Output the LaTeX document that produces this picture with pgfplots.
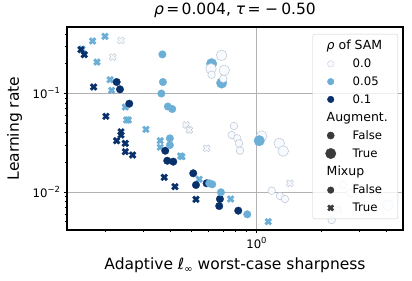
\documentclass[border=0pt]{standalone}
\usepackage{fontspec}
\setmainfont{DejaVu Sans}
\usepackage{pgfplots}
\pgfplotsset{compat=1.18}
\definecolor{c0}{HTML}{F7FBFF}
\definecolor{c0e}{HTML}{BCC5D0}
\definecolor{c1}{HTML}{6BAED6}
\definecolor{c2}{HTML}{08306B}
\definecolor{lg}{HTML}{3A3A3A}
\pgfdeclareplotmark{X}{%
  \pgftransformrotate{45}%
  \pgfpathmoveto{\pgfqpoint{-0.333\pgfplotmarksize}{-\pgfplotmarksize}}%
  \pgfpathlineto{\pgfqpoint{-0.333\pgfplotmarksize}{-0.333\pgfplotmarksize}}%
  \pgfpathlineto{\pgfqpoint{-\pgfplotmarksize}{-0.333\pgfplotmarksize}}%
  \pgfpathlineto{\pgfqpoint{-\pgfplotmarksize}{0.333\pgfplotmarksize}}%
  \pgfpathlineto{\pgfqpoint{-0.333\pgfplotmarksize}{0.333\pgfplotmarksize}}%
  \pgfpathlineto{\pgfqpoint{-0.333\pgfplotmarksize}{\pgfplotmarksize}}%
  \pgfpathlineto{\pgfqpoint{0.333\pgfplotmarksize}{\pgfplotmarksize}}%
  \pgfpathlineto{\pgfqpoint{0.333\pgfplotmarksize}{0.333\pgfplotmarksize}}%
  \pgfpathlineto{\pgfqpoint{\pgfplotmarksize}{0.333\pgfplotmarksize}}%
  \pgfpathlineto{\pgfqpoint{\pgfplotmarksize}{-0.333\pgfplotmarksize}}%
  \pgfpathlineto{\pgfqpoint{0.333\pgfplotmarksize}{-0.333\pgfplotmarksize}}%
  \pgfpathlineto{\pgfqpoint{0.333\pgfplotmarksize}{-\pgfplotmarksize}}%
  \pgfpathclose
  \pgfusepathqfillstroke}
\newcommand{\tsup}[1]{\raisebox{0.42em}{\fontsize{8.4bp}{9bp}\selectfont #1}}
\newcommand{\hdr}[1]{\hspace*{-26bp}{\fontsize{12.5bp}{14bp}\selectfont #1}\hspace*{6bp}}
\begin{document}
\begin{tikzpicture}
\path[use as bounding box] (-67bp,-51bp) rectangle (345bp,230bp);
\begin{axis}[
  at={(0,0)}, anchor=south west,
  scale only axis, width=336bp, height=203bp,
  xmode=log, ymode=log,
  xmin=0.1327, xmax=4.77, ymin=0.00412, ymax=0.47,
  xtick={1}, xticklabels={10\tsup{0}},
  ytick={0.01,0.1}, yticklabels={10\tsup{−2},10\tsup{−1}},
  minor xtick={0.2,0.3,0.4,0.5,0.6,0.7,0.8,0.9,2,3,4},
  minor ytick={0.005,0.006,0.007,0.008,0.009,0.02,0.03,0.04,0.05,0.06,0.07,0.08,0.09,0.2,0.3,0.4},
  tick align=outside, tick pos=left,
  major tick length=3.5bp, minor tick length=2bp,
  major tick style={black, line width=0.8bp},
  minor tick style={black, line width=0.6bp},
  grid=major, major grid style={color=black!30, line width=0.8bp},
  axis line style={line width=1.1bp},
  tick label style={font=\fontsize{11.7bp}{14bp}\selectfont},
  title={{\itshape ρ}\hspace{0.15em}=\hspace{0.15em}0.004, {\itshape τ}\hspace{0.15em}=\hspace{0.3em}−\hspace{0.2em}0.50},
  title style={font=\fontsize{15.5bp}{19bp}\selectfont, at={(axis description cs:0.5,1)}, anchor=base, yshift=7bp},
  xlabel={Adaptive {\itshape ℓ}\raisebox{-0.25em}{\fontsize{10bp}{11bp}\selectfont ∞} worst-case sharpness},
  xlabel style={font=\fontsize{15.5bp}{18bp}\selectfont, at={(axis description cs:0.5,0)}, anchor=base, yshift=-39bp},
  ylabel={Learning rate},
  ylabel style={font=\fontsize{15.5bp}{18bp}\selectfont, at={(axis description cs:-0.1429,0.5)}, anchor=base},
  legend style={at={(axis description cs:1,1)}, anchor=north east, xshift=-5bp, yshift=-7bp,
    draw=black!20, fill=white, fill opacity=0.8, text opacity=1, rounded corners=2bp,
    font=\fontsize{11.7bp}{14bp}\selectfont, inner xsep=4bp, inner ysep=6bp, row sep=7.6bp,
    nodes={inner sep=0pt},
    /tikz/every odd column/.append style={column sep=12bp}},
  legend cell align=left,
  legend image code/.code={\path[draw=none, fill=none] (0bp,-1bp) rectangle (24bp,1bp); \draw[fill opacity=1, draw opacity=1, #1] plot coordinates {(14bp,0bp)};},
]
% Mixup True, rho 0.05
\addplot[only marks, mark=X, mark size=3.7bp, draw=c1, fill=c1, line width=0.3bp, forget plot] coordinates {
(0.1745,0.339) (0.199,0.378) (0.1827,0.2075) (0.1556,0.281) (0.210,0.1374) (0.2136,0.1072) (0.247,0.0726) (0.2506,0.0537) (0.2555,0.0537) (0.3078,0.0431) (0.3586,0.0331) (0.3586,0.0284) (0.4457,0.0232) (0.452,0.0228) (0.5433,0.01346) (0.7597,0.00849) (1.134,0.0050)};
% Mixup True, rho 0.1
\addplot[only marks, mark=X, mark size=3.7bp, draw=c2, fill=c2, line width=0.3bp, forget plot] coordinates {
(0.154,0.2768) (0.1595,0.247) (0.1763,0.1159) (0.201,0.0585) (0.236,0.0408) (0.236,0.0378) (0.2253,0.0331) (0.247,0.0311) (0.247,0.0256) (0.267,0.0237) (0.3742,0.01409) (0.4195,0.01132) (0.5248,0.00843)};
% Mixup True, rho 0
\addplot[only marks, mark=X, mark size=3.7bp, draw=c0e, fill=c0, line width=0.4bp, forget plot] coordinates {
(0.236,0.344) (0.216,0.233) (0.4718,0.0478) (0.4886,0.0425) (0.588,0.0277) (1.429,0.01225) (2.385,0.00658)};
% Mixup False, rho 0.1, small
\addplot[only marks, mark=*, mark size=3.8bp, draw=c2, fill=c2, line width=0.3bp, forget plot] coordinates {
(0.2253,0.1302) (0.2334,0.1098) (0.2577,0.0785) (0.3783,0.0262) (0.3864,0.02075) (0.412,0.0203) (0.5097,0.01547) (0.5248,0.01178) (0.588,0.01225) (0.6777,0.00849) (0.6724,0.00721) (0.8236,0.00647)};
% rho 0.05 small
\addplot[only marks, mark=*, mark size=3.8bp, draw=c1, fill=c1, line width=0.3bp, forget plot] coordinates {
(0.367,0.248) (0.369,0.1302) (0.363,0.0995) (0.389,0.0735) (0.4075,0.0693) (0.3975,0.035) (0.3975,0.0299) (0.6045,0.01225) (0.624,0.01197) (0.6848,0.00993) (0.9066,0.00594)};
% rho 0.05 large
\addplot[only marks, mark=*, mark size=5.3bp, draw=c1, fill=c1, line width=0.3bp, forget plot] coordinates {
(0.620,0.1995) (0.690,0.1272)};
% rho 0 large
\addplot[only marks, mark=*, mark size=5.3bp, draw=c0e, fill=c0, line width=0.5bp, forget plot] coordinates {
(0.690,0.2427) (0.616,0.1775) (0.7095,0.171) (1.057,0.0369) (1.275,0.0311) (1.331,0.026) (4.06,0.00738)};
% rho 0 small
\addplot[only marks, mark=*, mark size=3.8bp, draw=c0e, fill=c0, line width=0.5bp, forget plot] coordinates {
(0.620,0.1543) (0.702,0.1406) (0.787,0.0467) (0.7677,0.0378) (0.815,0.035) (0.830,0.0311) (0.839,0.0262) (1.176,0.0103) (1.285,0.0091) (1.355,0.00849) (2.515,0.01178) (2.71,0.00977) (2.23,0.0052)};
% rho 0.05 large, front
\addplot[only marks, mark=*, mark size=5.3bp, draw=c1, fill=c1, line width=0.3bp, forget plot] coordinates {
(1.030,0.0331)};
% legend
\addlegendimage{empty legend}
\addlegendentry{\hdr{{\itshape ρ} of SAM}}
\addlegendimage{only marks, mark=*, mark size=3.3bp, draw=c0e, fill=c0, line width=0.3bp}
\addlegendentry{0.0}
\addlegendimage{only marks, mark=*, mark size=3.3bp, draw=c1, fill=c1}
\addlegendentry{0.05}
\addlegendimage{only marks, mark=*, mark size=3.3bp, draw=c2, fill=c2}
\addlegendentry{0.1}
\addlegendimage{empty legend}
\addlegendentry{\hdr{Augment.}}
\addlegendimage{only marks, mark=*, mark size=3.6bp, draw=lg, fill=lg}
\addlegendentry{False}
\addlegendimage{only marks, mark=*, mark size=5.2bp, draw=lg, fill=lg}
\addlegendentry{True}
\addlegendimage{empty legend}
\addlegendentry{\hdr{Mixup}}
\addlegendimage{only marks, mark=*, mark size=3.3bp, draw=lg, fill=lg}
\addlegendentry{False}
\addlegendimage{only marks, mark=X, mark size=3.3bp, draw=lg, fill=lg}
\addlegendentry{True}
\end{axis}
\end{tikzpicture}
\end{document}
